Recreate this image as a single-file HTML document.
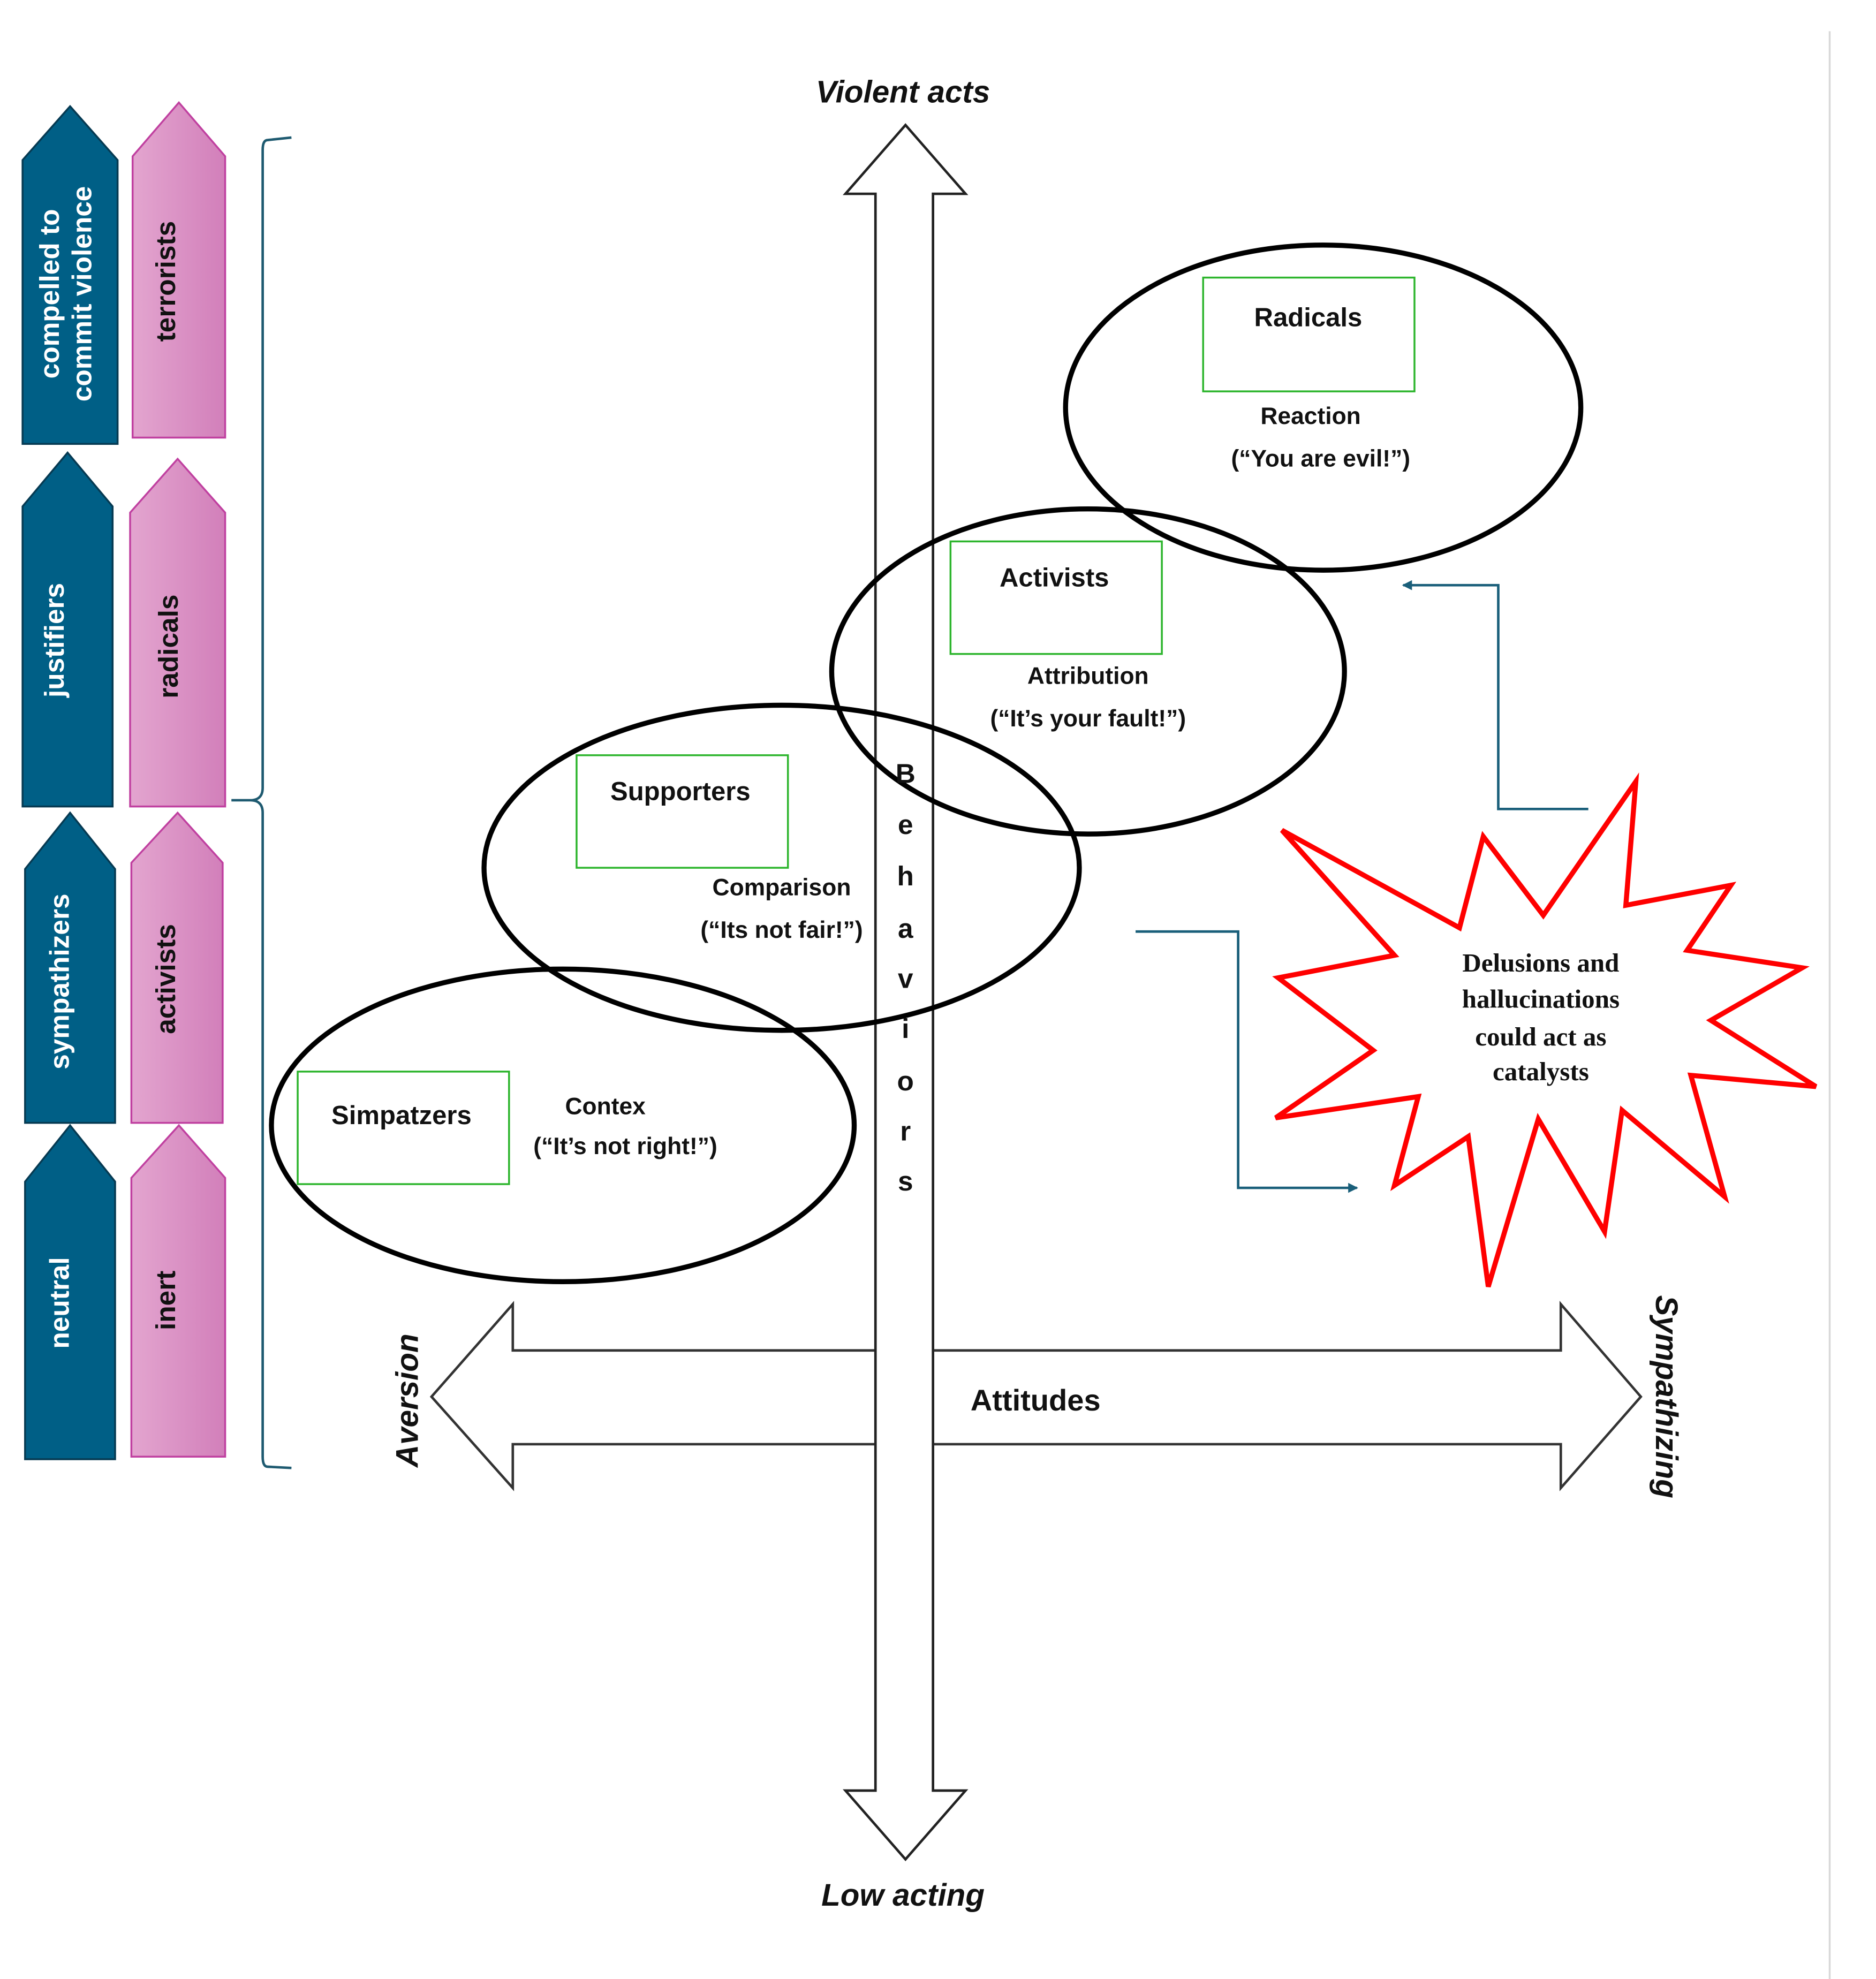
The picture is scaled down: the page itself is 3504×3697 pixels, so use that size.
<!DOCTYPE html>
<html><head><meta charset="utf-8"><style>
html,body{margin:0;padding:0;background:#fff;}
svg{display:block;}
.n{font-family:"Liberation Sans",sans-serif;font-weight:bold;}
</style></head><body>
<svg width="3504" height="3697" viewBox="0 0 1500 1582.7" xmlns="http://www.w3.org/2000/svg">
<defs>
<linearGradient id="pk" x1="0" x2="1" y1="0" y2="0"><stop offset="0" stop-color="#e3a5cf"/><stop offset="1" stop-color="#d27fba"/></linearGradient>
<marker id="ah" markerWidth="8" markerHeight="8" refX="7" refY="4" orient="auto" markerUnits="userSpaceOnUse"><path d="M0,0 L8,4 L0,8 Z" fill="#1a5f7a"/></marker>
</defs>
<rect width="1500" height="1583" fill="#fff"/>
<line x1="1463" y1="25" x2="1463" y2="1583" stroke="#d8d8d8" stroke-width="1.5"/>

<g fill="#005f86" stroke="#063a52" stroke-width="1.5">
<path d="M18,128 L56,85 L94,128 L94,355 L18,355 Z"/>
<path d="M18,405 L54,362 L90,405 L90,645 L18,645 Z"/>
<path d="M20,695 L56,650 L92,695 L92,898 L20,898 Z"/>
<path d="M20,945 L56,900 L92,945 L92,1167 L20,1167 Z"/>
</g>
<g fill="url(#pk)" stroke="#c040a0" stroke-width="1.5">
<path d="M106,125 L143,82 L180,125 L180,350 L106,350 Z"/>
<path d="M104,410 L142,367 L180,410 L180,645 L104,645 Z"/>
<path d="M105,690 L142,650 L178,690 L178,898 L105,898 Z"/>
<path d="M105,942 L143,900 L180,942 L180,1165 L105,1165 Z"/>
</g>
<g class="n" font-size="22" text-anchor="middle" fill="#fff">
<text transform="translate(47,235) rotate(-90)">compelled to</text>
<text transform="translate(73,235) rotate(-90)">commit violence</text>
<text transform="translate(51,512) rotate(-90)">justifiers</text>
<text transform="translate(55,785) rotate(-90)">sympathizers</text>
<text transform="translate(55,1042) rotate(-90)">neutral</text>
</g>
<g class="n" font-size="22" text-anchor="middle" fill="#111">
<text transform="translate(140,225) rotate(-90)">terrorists</text>
<text transform="translate(142,517) rotate(-90)">radicals</text>
<text transform="translate(140,783) rotate(-90)">activists</text>
<text transform="translate(140,1040) rotate(-90)">inert</text>
</g>
<path d="M233,110 L214,112 Q210,112 210,120 L210,630 Q210,640 200,640 L185,640 L200,640 Q210,640 210,650 L210,1165 Q210,1173 214,1173 L233,1174" fill="none" stroke="#1e5a70" stroke-width="2"/>

<path d="M345,1117 L410,1043 L410,1080 L1248,1080 L1248,1043 L1312,1117 L1248,1190 L1248,1155 L410,1155 L410,1190 Z" fill="#fff" stroke="#333" stroke-width="2"/>
<path d="M724,100 L772,155 L746,155 L746,1432 L772,1432 L724,1487 L676,1432 L700,1432 L700,155 L676,155 Z" fill="#fff" stroke="#222" stroke-width="2"/>

<g fill="none" stroke="#000" stroke-width="4">
<ellipse cx="1058" cy="326" rx="206" ry="130"/>
<ellipse cx="870" cy="537" rx="205" ry="130"/>
<ellipse cx="625" cy="694" rx="238" ry="130"/>
<ellipse cx="450" cy="900" rx="233" ry="125"/>
</g>
<g fill="none" stroke="#2db52d" stroke-width="1.5">
<rect x="962" y="222" width="169" height="91"/>
<rect x="760" y="433" width="169" height="90"/>
<rect x="461" y="604" width="169" height="90"/>
<rect x="238" y="857" width="169" height="90"/>
</g>
<g class="n" font-size="21" text-anchor="middle" fill="#111">
<text x="1046" y="261">Radicals</text>
<text x="843" y="469">Activists</text>
<text x="544" y="640">Supporters</text>
<text x="321" y="899">Simpatzers</text>
</g>
<g class="n" font-size="19" text-anchor="middle" fill="#111">
<text x="1048" y="339">Reaction</text>
<text x="1056" y="373">(“You are evil!”)</text>
<text x="870" y="547">Attribution</text>
<text x="870" y="581">(“It’s your fault!”)</text>
<text x="625" y="716">Comparison</text>
<text x="625" y="750">(“Its not fair!”)</text>
<text x="484" y="891">Contex</text>
<text x="500" y="923">(“It’s not right!”)</text>
</g>
<g class="n" font-size="22" text-anchor="middle" fill="#111">
<text x="724" y="626">B</text><text x="724" y="667">e</text><text x="724" y="708">h</text><text x="724" y="750">a</text><text x="724" y="790">v</text><text x="724" y="830">i</text><text x="724" y="872">o</text><text x="724" y="912">r</text><text x="724" y="952">s</text>
</g>
<g font-family="Liberation Sans, sans-serif" font-weight="bold" font-style="italic" font-size="25" text-anchor="middle" fill="#111">
<text x="722" y="82">Violent acts</text>
<text x="722" y="1524">Low acting</text>
<text transform="translate(334,1120) rotate(-90)">Aversion</text>
<text transform="translate(1324,1117) rotate(90)">Sympathizing</text>
</g>
<text class="n" x="828" y="1128" font-size="24" text-anchor="middle" fill="#111">Attitudes</text>

<g fill="none" stroke="#1a5f7a" stroke-width="2">
<path d="M1270,647 L1198,647 L1198,468 L1122,468" marker-end="url(#ah)"/>
<path d="M908,745 L990,745 L990,950 L1085,950" marker-end="url(#ah)"/>
</g>

<path d="M1308,625 L1300,724 L1384,708 L1349,760 L1441,774 L1368,816 L1452,869 L1352,860 L1379,957 L1297,888 L1283,985 L1230,895 L1190,1029 L1174,909 L1115,948 L1134,877 L1020,894 L1098,840 L1022,782 L1115,764 L1025,664 L1167,742 L1186,669 L1234,732 Z" fill="#fff" stroke="#f00" stroke-width="4" stroke-linejoin="miter"/>
<g font-family="Liberation Serif, serif" font-weight="bold" font-size="21" text-anchor="middle" fill="#111">
<text x="1232" y="777">Delusions and</text>
<text x="1232" y="806">hallucinations</text>
<text x="1232" y="836">could act as</text>
<text x="1232" y="864">catalysts</text>
</g>
</svg>
</body></html>
